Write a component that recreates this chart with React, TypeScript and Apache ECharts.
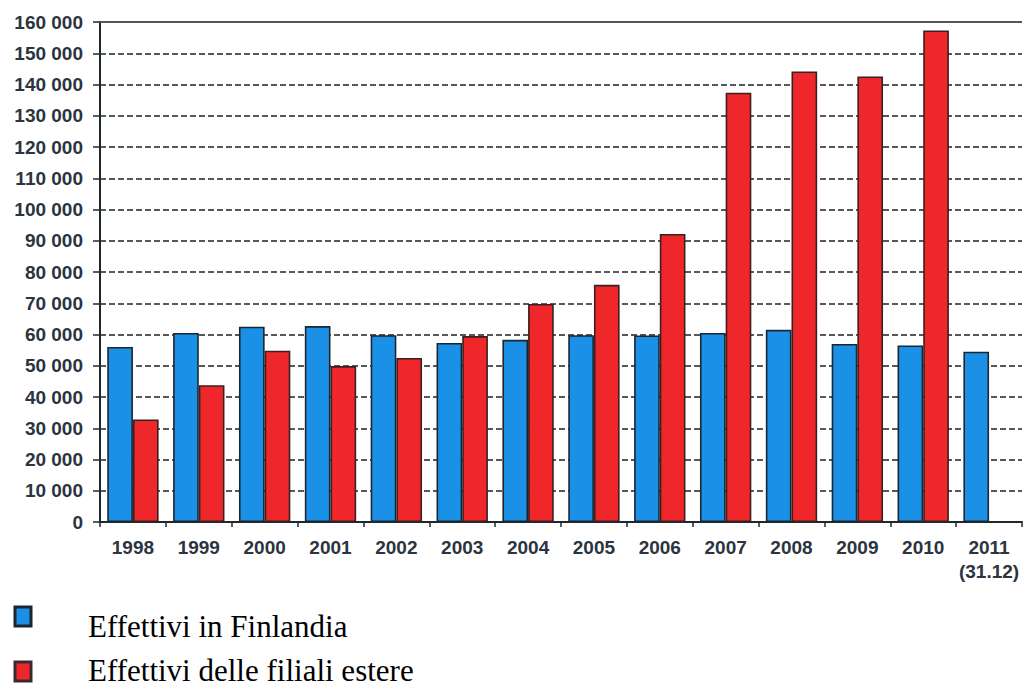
import React, { useEffect, useRef } from "react";
import * as echarts from "echarts";

const categories = ["1998", "1999", "2000", "2001", "2002", "2003", "2004", "2005", "2006", "2007", "2008", "2009", "2010", "2011\n(31.12)"];
const finlandia = [56000, 60500, 62500, 62700, 59800, 57300, 58300, 59800, 59700, 60500, 61500, 57000, 56500, 54500];
const filialiEstere: (number | null)[] = [32800, 43800, 54800, 49900, 52500, 59500, 69800, 75900, 92200, 137400, 144200, 142600, 157300, null];
const yTicks = { min: 0, max: 160000, interval: 10000 };
const seriesNames = ["Effettivi in Finlandia", "Effettivi delle filiali estere"];

const fmt = (v: number) => {
  const s = String(Math.round(v));
  return s.replace(/\B(?=(\d{3})+(?!\d))/g, " ");
};

export default function App() {
  const ref = useRef<HTMLDivElement>(null);
  useEffect(() => {
    if (!ref.current) return;
    const chart = echarts.init(ref.current, undefined, { renderer: "svg" });
    const labelColor = "#2b3440";
    const blue = "#1a90e6";
    const red = "#f0272a";
    const legendFont = '31px "Liberation Serif"';
    chart.setOption({
      animation: false,
      backgroundColor: "#ffffff",
      grid: { left: 100, right: 2, top: 22, bottom: 170, containLabel: false },
      legend: { show: false, data: seriesNames },
      graphic: [
        {
          type: "rect",
          shape: { x: 15, y: 607, width: 16, height: 19 },
          style: { fill: blue, stroke: "#1c2630", lineWidth: 3 },
          silent: true,
        },
        {
          type: "text",
          x: 88,
          y: 626,
          style: { text: seriesNames[0], font: legendFont, fill: "#000", verticalAlign: "middle", align: "left" },
          silent: true,
        },
        {
          type: "rect",
          shape: { x: 15, y: 662, width: 16, height: 19 },
          style: { fill: red, stroke: "#3a2a30", lineWidth: 3 },
          silent: true,
        },
        {
          type: "text",
          x: 88,
          y: 670,
          style: { text: seriesNames[1], font: legendFont, fill: "#000", verticalAlign: "middle", align: "left" },
          silent: true,
        },
      ],
      xAxis: {
        type: "category",
        data: categories,
        axisLine: { show: true, lineStyle: { color: "#1e2a2e", width: 2 } },
        axisTick: { show: true, length: 5, lineStyle: { color: "#1e2a2e", width: 1.5 } },
        axisLabel: {
          color: labelColor,
          fontFamily: "Liberation Sans",
          fontWeight: "bold",
          fontSize: 19,
          margin: 13,
          lineHeight: 24,
          interval: 0,
        },
      },
      yAxis: {
        type: "value",
        min: yTicks.min,
        max: yTicks.max,
        interval: yTicks.interval,
        axisLine: { show: true, lineStyle: { color: "#1e2a2e", width: 2 } },
        axisTick: { show: true, length: 7, lineStyle: { color: "#1e2a2e", width: 1.5 } },
        axisLabel: {
          color: labelColor,
          fontFamily: "Liberation Sans",
          fontWeight: "bold",
          fontSize: 19,
          margin: 17,
          formatter: (v: number) => fmt(v),
        },
        splitLine: {
          show: true,
          lineStyle: { color: "#222", width: 1.6, type: [6, 3] },
        },
      },
      series: [
        {
          name: seriesNames[0],
          type: "bar",
          data: finlandia,
          barGap: "0%",
          barCategoryGap: "22%",
          itemStyle: { color: blue, borderColor: "#1c2630", borderWidth: 1.6 },
          markLine: {
            silent: true,
            symbol: "none",
            label: { show: false },
            lineStyle: { color: "#555", type: "solid", width: 2 },
            data: [{ yAxis: yTicks.max }],
          },
        },
        {
          name: seriesNames[1],
          type: "bar",
          data: filialiEstere,
          itemStyle: { color: red, borderColor: "#3a2020", borderWidth: 1.6 },
        },
      ],
    });
    return () => chart.dispose();
  }, []);
  return (
    <div
      ref={ref}
      style={{ position: "fixed", left: 0, top: 0, width: 1024, height: 692 }}
    />
  );
}
